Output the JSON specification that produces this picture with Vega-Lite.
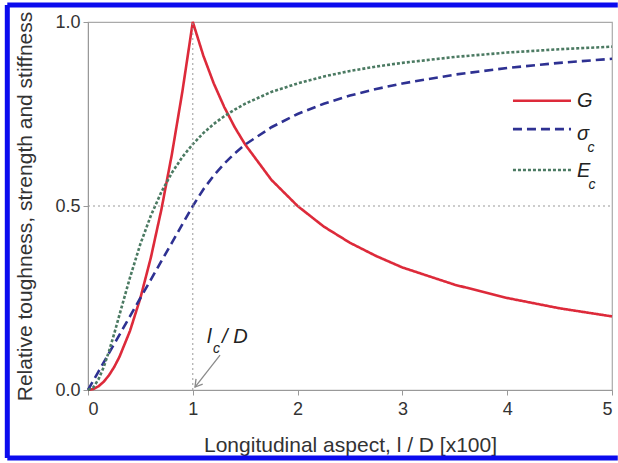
{
  "$schema": "https://vega.github.io/schema/vega-lite/v6.json",
  "width": 524,
  "height": 368,
  "autosize": "none",
  "padding": {"left": 88, "top": 22, "right": 6, "bottom": 73},
  "background": "white",
  "config": {
    "font": "Liberation Sans",
    "view": {"stroke": "#aaaaaa", "strokeWidth": 1.2},
    "axis": {"grid": false, "domainColor": "#999999", "tickColor": "#999999", "tickSize": 5, "labelFontSize": 18, "labelColor": "#333333", "titleFontSize": 21, "titleFontWeight": "normal", "titleColor": "#333333"}
  },
  "datasets": {
    "curves": [
      {"x":0,"y":0,"s":"G"},{"x":0.05,"y":0.0025,"s":"G"},{"x":0.1,"y":0.01,"s":"G"},{"x":0.15,"y":0.0225,"s":"G"},{"x":0.2,"y":0.04,"s":"G"},{"x":0.25,"y":0.0625,"s":"G"},{"x":0.3,"y":0.09,"s":"G"},{"x":0.4,"y":0.16,"s":"G"},{"x":0.5,"y":0.25,"s":"G"},{"x":0.6,"y":0.36,"s":"G"},{"x":0.7,"y":0.49,"s":"G"},{"x":0.8,"y":0.64,"s":"G"},{"x":0.9,"y":0.81,"s":"G"},{"x":1,"y":1,"s":"G"},{"x":1.1,"y":0.909,"s":"G"},{"x":1.2,"y":0.833,"s":"G"},{"x":1.3,"y":0.769,"s":"G"},{"x":1.4,"y":0.714,"s":"G"},{"x":1.5,"y":0.667,"s":"G"},{"x":1.75,"y":0.571,"s":"G"},{"x":2,"y":0.5,"s":"G"},{"x":2.25,"y":0.444,"s":"G"},{"x":2.5,"y":0.4,"s":"G"},{"x":2.75,"y":0.364,"s":"G"},{"x":3,"y":0.333,"s":"G"},{"x":3.5,"y":0.286,"s":"G"},{"x":4,"y":0.25,"s":"G"},{"x":4.5,"y":0.222,"s":"G"},{"x":5,"y":0.2,"s":"G"},
      {"x":0,"y":0,"s":"S"},{"x":0.05,"y":0.025,"s":"S"},{"x":0.1,"y":0.05,"s":"S"},{"x":0.15,"y":0.075,"s":"S"},{"x":0.2,"y":0.1,"s":"S"},{"x":0.25,"y":0.125,"s":"S"},{"x":0.3,"y":0.15,"s":"S"},{"x":0.4,"y":0.2,"s":"S"},{"x":0.5,"y":0.25,"s":"S"},{"x":0.6,"y":0.3,"s":"S"},{"x":0.7,"y":0.35,"s":"S"},{"x":0.8,"y":0.4,"s":"S"},{"x":0.9,"y":0.45,"s":"S"},{"x":1,"y":0.5,"s":"S"},{"x":1.1,"y":0.545,"s":"S"},{"x":1.2,"y":0.583,"s":"S"},{"x":1.3,"y":0.615,"s":"S"},{"x":1.4,"y":0.643,"s":"S"},{"x":1.5,"y":0.667,"s":"S"},{"x":1.75,"y":0.714,"s":"S"},{"x":2,"y":0.75,"s":"S"},{"x":2.25,"y":0.778,"s":"S"},{"x":2.5,"y":0.8,"s":"S"},{"x":2.75,"y":0.818,"s":"S"},{"x":3,"y":0.833,"s":"S"},{"x":3.5,"y":0.857,"s":"S"},{"x":4,"y":0.875,"s":"S"},{"x":4.5,"y":0.889,"s":"S"},{"x":5,"y":0.9,"s":"S"},
      {"x":0,"y":0,"s":"E"},{"x":0.05,"y":0.007,"s":"E"},{"x":0.1,"y":0.029,"s":"E"},{"x":0.15,"y":0.062,"s":"E"},{"x":0.2,"y":0.105,"s":"E"},{"x":0.25,"y":0.153,"s":"E"},{"x":0.3,"y":0.204,"s":"E"},{"x":0.4,"y":0.305,"s":"E"},{"x":0.5,"y":0.397,"s":"E"},{"x":0.6,"y":0.474,"s":"E"},{"x":0.7,"y":0.538,"s":"E"},{"x":0.8,"y":0.59,"s":"E"},{"x":0.9,"y":0.633,"s":"E"},{"x":1,"y":0.668,"s":"E"},{"x":1.1,"y":0.698,"s":"E"},{"x":1.2,"y":0.723,"s":"E"},{"x":1.3,"y":0.744,"s":"E"},{"x":1.4,"y":0.762,"s":"E"},{"x":1.5,"y":0.778,"s":"E"},{"x":1.75,"y":0.81,"s":"E"},{"x":2,"y":0.833,"s":"E"},{"x":2.25,"y":0.852,"s":"E"},{"x":2.5,"y":0.867,"s":"E"},{"x":2.75,"y":0.879,"s":"E"},{"x":3,"y":0.889,"s":"E"},{"x":3.5,"y":0.905,"s":"E"},{"x":4,"y":0.917,"s":"E"},{"x":4.5,"y":0.926,"s":"E"},{"x":5,"y":0.933,"s":"E"}
    ],
    "legend": [
      {"x":4.055,"x2":4.609,"y":0.786,"s":"G"},
      {"x":4.055,"x2":4.609,"y":0.709,"s":"S"},
      {"x":4.055,"x2":4.609,"y":0.598,"s":"E"}
    ],
    "frame": [
      {"x":-0.77,"x2":-0.77,"y":-0.185,"y2":1.046},
      {"x":-0.77,"x2":5.055,"y":1.046,"y2":1.046},
      {"x":-0.77,"x2":5.055,"y":-0.185,"y2":-0.185}
    ]
  },
  "layer": [
    {
      "data": {"name": "curves"},
      "mark": {"type": "line", "strokeWidth": 2.6},
      "encoding": {
        "x": {
          "field": "x", "type": "quantitative",
          "scale": {"domain": [0, 5], "nice": false, "zero": false},
          "axis": {
            "title": "Longitudinal aspect, l / D [x100]",
            "values": [0, 1, 2, 3, 4, 5], "format": "d",
            "labelPadding": 5, "titlePadding": 16
          }
        },
        "y": {
          "field": "y", "type": "quantitative",
          "scale": {"domain": [0, 1], "nice": false},
          "axis": {
            "title": "Relative toughness, strength and stiffness",
            "values": [0, 0.5, 1], "format": ".1f",
            "labelPadding": 3, "titlePadding": 19
          }
        },
        "color": {"field": "s", "type": "nominal", "scale": {"domain": ["E", "S", "G"], "range": ["#4b7a62", "#2e3192", "#dd2a3a"]}, "legend": null},
        "strokeDash": {"field": "s", "type": "nominal", "scale": {"domain": ["E", "S", "G"], "range": [[3, 2], [9, 5], [1, 0]]}, "legend": null},
        "order": {"field": "x", "type": "quantitative"}
      }
    },
    {
      "data": {"name": "frame"},
      "mark": {"type": "rule", "color": "#0b0bee", "strokeWidth": 5, "clip": false},
      "encoding": {
        "x": {"field": "x", "type": "quantitative"},
        "x2": {"field": "x2"},
        "y": {"field": "y", "type": "quantitative"},
        "y2": {"field": "y2"}
      }
    },
    {
      "data": {"values": [{"x": 1, "y": 0, "y2": 1}]},
      "mark": {"type": "rule", "color": "#999999", "strokeWidth": 1, "strokeDash": [2, 3]},
      "encoding": {
        "x": {"field": "x", "type": "quantitative"},
        "y": {"field": "y", "type": "quantitative"},
        "y2": {"field": "y2"}
      }
    },
    {
      "data": {"values": [{"x": 0, "x2": 5, "y": 0.5}]},
      "mark": {"type": "rule", "color": "#999999", "strokeWidth": 1, "strokeDash": [2, 3]},
      "encoding": {
        "x": {"field": "x", "type": "quantitative"},
        "x2": {"field": "x2"},
        "y": {"field": "y", "type": "quantitative"}
      }
    },
    {
      "data": {"name": "legend"},
      "mark": {"type": "rule", "strokeWidth": 2.6},
      "encoding": {
        "x": {"field": "x", "type": "quantitative"},
        "x2": {"field": "x2"},
        "y": {"field": "y", "type": "quantitative"},
        "color": {"field": "s", "type": "nominal", "legend": null},
        "strokeDash": {"field": "s", "type": "nominal", "legend": null}
      }
    },
    {
      "data": {"values": [
        {"x": 4.666, "y": 0.770, "t": "G"},
        {"x": 4.666, "y": 0.679, "t": "σ"},
        {"x": 4.666, "y": 0.580, "t": "E"},
        {"x": 1.136, "y": 0.128, "t": "l"},
        {"x": 1.279, "y": 0.128, "t": "/ D"}
      ]},
      "mark": {"type": "text", "align": "left", "baseline": "alphabetic", "fontSize": 20, "fontStyle": "italic", "color": "#222222"},
      "encoding": {
        "x": {"field": "x", "type": "quantitative"},
        "y": {"field": "y", "type": "quantitative"},
        "text": {"field": "t"}
      }
    },
    {
      "data": {"values": [
        {"x": 4.766, "y": 0.646, "t": "c"},
        {"x": 4.776, "y": 0.546, "t": "c"},
        {"x": 1.193, "y": 0.1, "t": "c"}
      ]},
      "mark": {"type": "text", "align": "left", "baseline": "alphabetic", "fontSize": 14, "fontStyle": "italic", "color": "#222222"},
      "encoding": {
        "x": {"field": "x", "type": "quantitative"},
        "y": {"field": "y", "type": "quantitative"},
        "text": {"field": "t"}
      }
    },
    {
      "data": {"values": [{"x": 1.26, "y": 0.095, "x2": 1.021, "y2": 0.008}]},
      "mark": {"type": "rule", "color": "#8a8a8a", "strokeWidth": 1.3},
      "encoding": {
        "x": {"field": "x", "type": "quantitative"},
        "y": {"field": "y", "type": "quantitative"},
        "x2": {"field": "x2"},
        "y2": {"field": "y2"}
      }
    },
    {
      "data": {"values": [{"x": 1.021, "y": 0.008}]},
      "mark": {"type": "point", "shape": "M-1,-0.6L0,0L-1,0.6", "filled": false, "stroke": "#8a8a8a", "strokeWidth": 1.3, "size": 200, "angle": 128, "opacity": 1},
      "encoding": {
        "x": {"field": "x", "type": "quantitative"},
        "y": {"field": "y", "type": "quantitative"}
      }
    }
  ]
}
